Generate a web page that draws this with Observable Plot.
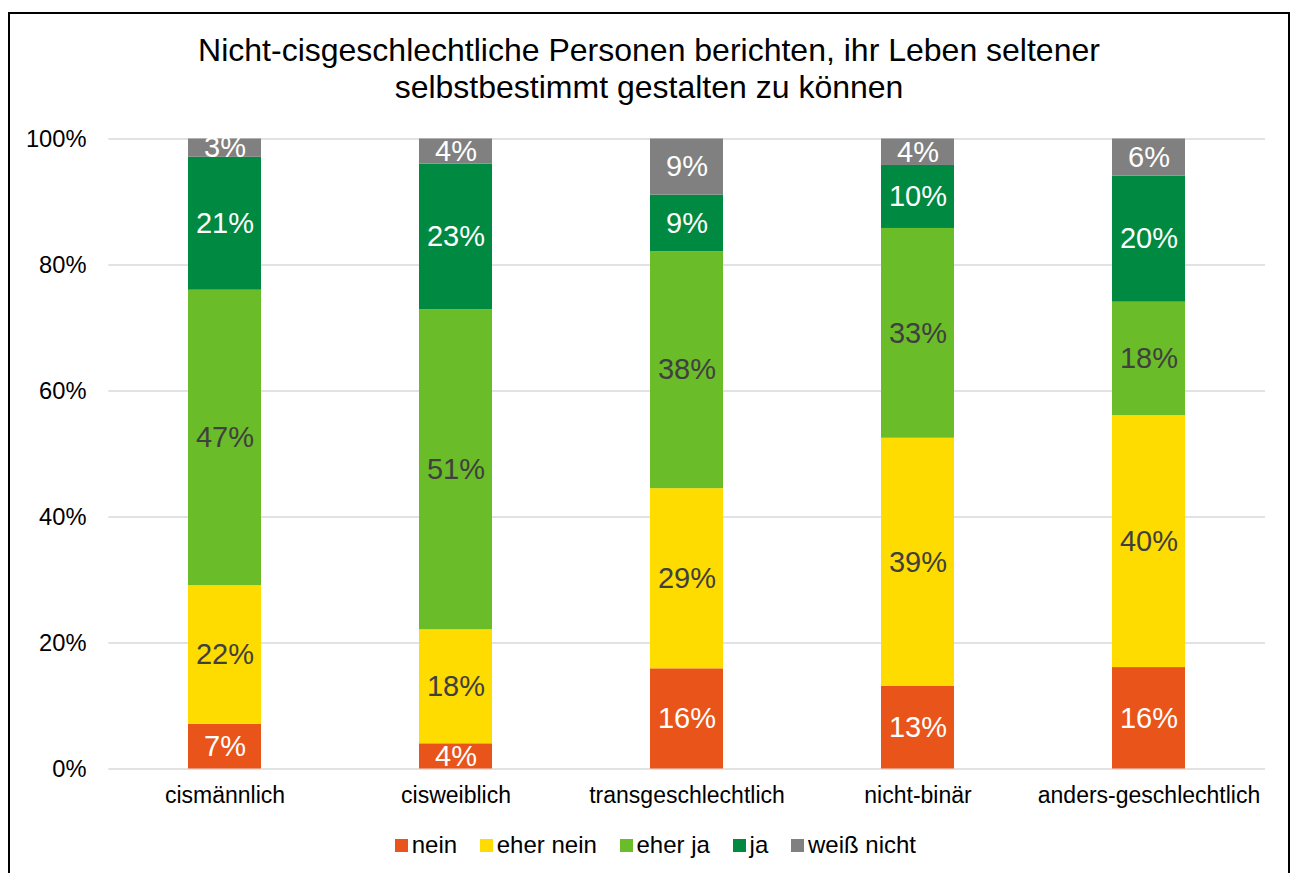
<!DOCTYPE html>
<html>
<head>
<meta charset="utf-8">
<script src="https://cdn.jsdelivr.net/npm/d3@7"></script>
<script src="https://cdn.jsdelivr.net/npm/@observablehq/plot@0.6"></script>
<style>
html, body { margin: 0; padding: 0; background: #fff; }
body { width: 1298px; height: 873px; position: relative; overflow: hidden; font-family: "Liberation Sans", Arial, sans-serif; }
#frame { position: absolute; left: 8px; top: 12px; width: 1282px; height: 900px; border: 2px solid #000; box-sizing: border-box; }
#title { position: absolute; left: 8px; width: 1282px; top: 32.4px; text-align: center; font-size: 32px; line-height: 37px; color: #000; white-space: nowrap; }
#chart { position: absolute; left: 0; top: 110px; width: 1298px; }
#legend { position: absolute; left: 395px; top: 831.3px; display: flex; font-size: 24px; line-height: 28px; color: #000; white-space: nowrap; }
.item { display: flex; align-items: center; margin-right: 23px; }
.sw { width: 12.7px; height: 12.7px; margin-right: 4px; flex: none; }
</style>
</head>
<body>
<div id="frame"></div>
<div id="title">Nicht-cisgeschlechtliche Personen berichten, ihr Leben seltener<br>selbstbestimmt gestalten zu können</div>
<div id="chart"></div>
<div id="legend"></div>
<script>
// ---- data ----
const categories = ["cismännlich", "cisweiblich", "transgeschlechtlich", "nicht-binär", "anders-geschlechtlich"];
const series = ["nein", "eher nein", "eher ja", "ja", "weiß nicht"];
const nein       = [7.1, 4.0, 15.9, 13.1, 16.1];
const eherNein   = [22.0, 18.1, 28.6, 39.4, 40.0];
const eherJa     = [46.9, 50.8, 37.6, 33.3, 18.0];
const ja         = [21.1, 23.1, 9.0, 10.0, 20.0];
const weissNicht = [2.9, 4.0, 8.9, 4.2, 5.9];
const yTicks = [0, 20, 40, 60, 80, 100];

// ---- styles ----
const colors = ["#E8541A", "#FFDC00", "#6ABC28", "#008940", "#808080"];
const darkLabelSeries = new Set(["eher nein", "eher ja"]);

const seriesValues = [nein, eherNein, eherJa, ja, weissNicht];
const rows = series.flatMap((s, si) =>
  categories.map((c, ci) => ({ category: c, series: s, value: seriesValues[si][ci] }))
);
const fmt = v => Math.round(v) + "%";

const chart = Plot.plot({
  width: 1298,
  height: 720,
  marginLeft: 108.3,
  marginRight: 33,
  marginTop: 28.5,
  marginBottom: 61.5,
  style: { fontFamily: '"Liberation Sans", Arial, sans-serif', background: "transparent", color: "#000", overflow: "visible" },
  x: { domain: categories, paddingInner: 0.685, paddingOuter: 0.3425, label: null },
  y: { domain: [0, 100], label: null },
  color: { domain: series, range: colors },
  marks: [
    Plot.gridY(yTicks, { stroke: "#d9d9d9", strokeOpacity: 1, strokeWidth: 1.5 }),
    Plot.barY(rows, { x: "category", y: "value", fill: "series", order: series }),
    Plot.text(rows, Plot.stackY({
      x: "category", y: "value", z: "series", order: series,
      text: d => darkLabelSeries.has(d.series) ? null : fmt(d.value),
      fill: "#ffffff", fontSize: 29
    })),
    Plot.text(rows, Plot.stackY({
      x: "category", y: "value", z: "series", order: series,
      text: d => darkLabelSeries.has(d.series) ? fmt(d.value) : null,
      fill: "#404040", fontSize: 29
    })),
    Plot.axisY(yTicks, { tickSize: 0, tickPadding: 22.3, tickFormat: d => d + "%", fontSize: 23.7, label: null }),
    Plot.axisX({ tickSize: 0, tickPadding: 18, fontSize: 23, label: null })
  ]
});
document.getElementById("chart").appendChild(chart);

// ---- legend ----
const legend = document.getElementById("legend");
series.forEach((s, i) => {
  const item = document.createElement("div");
  item.className = "item";
  const sw = document.createElement("span");
  sw.className = "sw";
  sw.style.background = colors[i];
  const label = document.createElement("span");
  label.textContent = s;
  item.appendChild(sw);
  item.appendChild(label);
  legend.appendChild(item);
});
</script>
</body>
</html>
